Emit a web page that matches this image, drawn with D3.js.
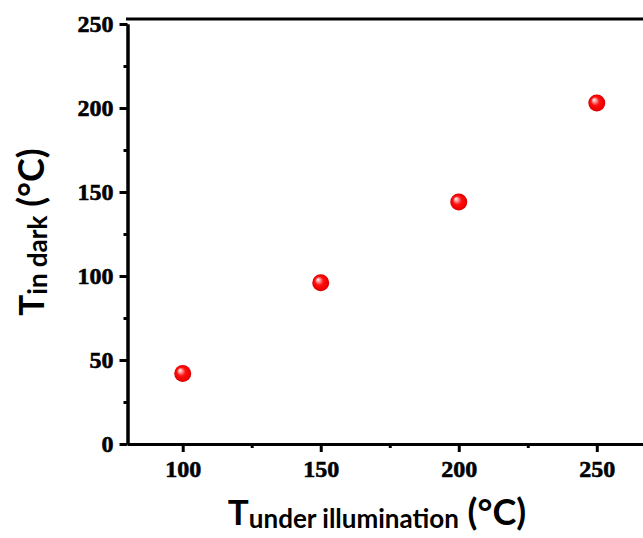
<!DOCTYPE html>
<html>
<head>
<meta charset="utf-8">
<script src="https://cdn.jsdelivr.net/npm/d3@7"></script>
<style>
  html, body { margin: 0; padding: 0; background: #fff; overflow: hidden; }
  svg { display: block; }
</style>
</head>
<body>
<svg id="chart" width="643" height="538"></svg>
<script>
// Temperature under illumination vs. temperature reached in dark
const tIllum = [100, 150, 200, 250];
const tDark = [42, 96, 144, 203];
const xTicks = [100, 150, 200, 250];
const xMinor = [125, 175, 225];
const yTicks = [0, 50, 100, 150, 200, 250];
const yMinor = [25, 75, 125, 175, 225];

const svg = d3.select("#chart");

const x = d3.scaleLinear().domain([80, 270]).range([127.5, 652]);
const y = d3.scaleLinear().domain([0, 250]).range([444, 24]);

// Sphere-like marker gradient
const defs = svg.append("defs");
const grad = defs.append("radialGradient")
  .attr("id", "ball")
  .attr("cx", "50%").attr("cy", "50%").attr("r", "50%")
  .attr("fx", "32%").attr("fy", "30%");
grad.append("stop").attr("offset", "0%").attr("stop-color", "#ffffff");
grad.append("stop").attr("offset", "22%").attr("stop-color", "#ff9a9a");
grad.append("stop").attr("offset", "50%").attr("stop-color", "#ff1010");
grad.append("stop").attr("offset", "85%").attr("stop-color", "#f00000");
grad.append("stop").attr("offset", "100%").attr("stop-color", "#d00000");

const tickFont = "'Liberation Serif', 'Times New Roman', serif";

function styleAxis(g) {
  g.selectAll(".domain").attr("stroke", "#000").attr("stroke-width", 3);
  g.selectAll(".tick line").attr("stroke", "#000").attr("stroke-width", 3);
  g.selectAll(".tick text")
    .attr("font-family", tickFont)
    .attr("font-weight", "bold")
    .attr("font-size", 24)
    .attr("fill", "#000")
    .attr("stroke", "#000")
    .attr("stroke-width", 0.6);
}

// Minor ticks
svg.append("g")
  .attr("transform", `translate(0,${y(0)})`)
  .call(d3.axisBottom(x).tickValues(xMinor).tickSize(4).tickSizeOuter(0).tickFormat(""))
  .call(styleAxis);
svg.append("g")
  .attr("transform", `translate(${x(80)},0)`)
  .call(d3.axisLeft(y).tickValues(yMinor).tickSize(4).tickSizeOuter(0).tickFormat(""))
  .call(styleAxis);

// Major axes
svg.append("g")
  .attr("transform", `translate(0,${y(0)})`)
  .call(d3.axisBottom(x).tickValues(xTicks).tickSize(8).tickSizeOuter(0).tickPadding(8).tickFormat(d3.format("d")))
  .call(styleAxis);

svg.append("g")
  .attr("transform", `translate(${x(80)},0)`)
  .call(d3.axisLeft(y).tickValues(yTicks).tickSize(8).tickSizeOuter(0).tickPadding(6).tickFormat(d3.format("d")))
  .call(styleAxis);

// Top frame line
svg.append("line")
  .attr("x1", x(80) - 1.5).attr("x2", x(270))
  .attr("y1", y(253)).attr("y2", y(253))
  .attr("stroke", "#000").attr("stroke-width", 3);

// Data points
svg.append("g").selectAll("circle")
  .data(tIllum.map((d, i) => [d, tDark[i]]))
  .join("circle")
  .attr("cx", d => x(d[0]))
  .attr("cy", d => y(d[1]))
  .attr("r", 8.5)
  .attr("fill", "url(#ball)");

// Axis titles
const titleFont = "Lato, 'Open Sans', sans-serif";

function title(sel, sub) {
  sel.attr("text-anchor", "middle")
    .attr("font-family", titleFont)
    .attr("font-weight", "bold")
    .attr("fill", "#000");
  sel.append("tspan").attr("font-size", 35).text("T");
  sel.append("tspan").attr("font-size", 26).attr("dy", 3).text(sub);
  sel.append("tspan").attr("font-size", 36).attr("dy", -3).text(" (°C)");
}

title(svg.append("text").attr("x", 377).attr("y", 525), "under illumination");
title(svg.append("text").attr("transform", "translate(44,232) rotate(-90)"), "in dark");
</script>
</body>
</html>
